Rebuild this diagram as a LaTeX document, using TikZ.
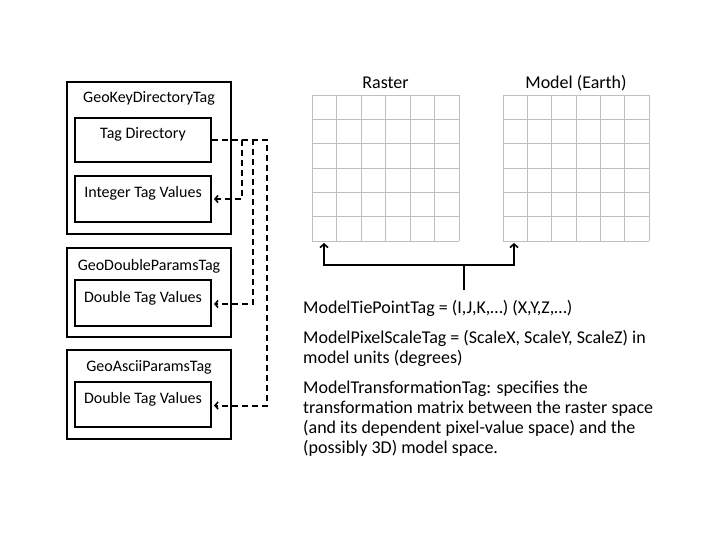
\documentclass[tikz,border=0pt]{standalone}
\usepackage{fontspec}
\setmainfont{Carlito}
\usetikzlibrary{arrows.meta}
\begin{document}
\begin{tikzpicture}[x=1pt,y=-1pt,
  outerbox/.style={draw=black,line width=2pt,minimum width=164pt,inner sep=0pt},
  innerbox/.style={draw=black,line width=2pt,minimum width=136pt,inner sep=0pt},
  lbl/.style={font=\fontsize{16}{19}\selectfont,inner sep=0pt,anchor=base},
  ilbl/.style={font=\fontsize{16}{19}\selectfont,inner sep=0pt,anchor=base},
  glbl/.style={font=\fontsize{18}{21}\selectfont,inner sep=0pt,anchor=base},
  desc/.style={font=\fontsize{18}{20}\selectfont,inner sep=0pt,anchor=base west,align=left},
  dashconn/.style={line width=2pt,dash pattern=on 6pt off 4pt,-{Straight Barb[length=3pt,width=7pt,line width=1.6pt]}},
  conn/.style={line width=2pt,-{Straight Barb[length=3.5pt,width=8pt,line width=1.6pt]}},
  gridline/.style={draw=black!25,line width=0.8pt}]
\useasboundingbox (0,0) rectangle (720,540);
% left boxes
\node[outerbox,minimum height=152pt] (gk) at (149,158) {};
\node[lbl] (gkl) at (149,103) {GeoKeyDirectoryTag};
\node[innerbox,minimum height=44pt] (td) at (143,140) {};
\node[ilbl] (tdl) at (143,138.5) {Tag Directory};
\node[innerbox,minimum height=46pt] (itv) at (143,199) {};
\node[ilbl] (itvl) at (143,198) {Integer Tag Values};

\node[outerbox,minimum height=89pt] (gd) at (149,292.5) {};
\node[lbl] (gdl) at (149,270) {GeoDoubleParamsTag};
\node[innerbox,minimum height=46pt] (dtv1) at (143,303) {};
\node[ilbl] (dtv1l) at (143,302) {Double Tag Values};

\node[outerbox,minimum height=89pt] (ga) at (149,394.5) {};
\node[lbl] (gal) at (149,371) {GeoAsciiParamsTag};
\node[innerbox,minimum height=45pt] (dtv2) at (143,404.5) {};
\node[ilbl] (dtv2l) at (143,403) {Double Tag Values};

% dashed connectors
\coordinate (v1) at (242,0);
\coordinate (v2) at (253,0);
\coordinate (v3) at (267,0);
\draw[dashconn] (td.east) -- (td.east -| v1) |- ([xshift=2pt]itv.east);
\draw[dashconn] (td.east) -- (td.east -| v2) |- ([xshift=2pt,yshift=-1pt]dtv1.east);
\draw[dashconn] (td.east) -- (td.east -| v3) |- ([xshift=2pt,yshift=-1pt]dtv2.east);

% grids
\node[inner sep=0pt,minimum width=147pt,minimum height=146pt] (raster) at (385.5,168) {};
\node[inner sep=0pt,minimum width=146pt,minimum height=146pt] (model) at (576,168) {};
\foreach \i in {0,...,6} {
  \draw[gridline] (312+\i*24.5,95) -- (312+\i*24.5,241);
  \draw[gridline] (312,95+\i*24.33) -- (459,95+\i*24.33);
  \draw[gridline] (503+\i*24.33,95) -- (503+\i*24.33,241);
  \draw[gridline] (503,95+\i*24.33) -- (649,95+\i*24.33);
}
\node[glbl] (rl) at (385.5,88.5) {Raster};
\node[glbl] (ml) at (576,88.5) {Model (Earth)};

% solid connectors
\coordinate (stem) at (464,290);
\coordinate (junc) at (464,265);
\coordinate (ra) at (324,243);
\coordinate (ma) at (514,243);
\draw[line width=2pt] (stem) -- (junc);
\draw[conn] (junc) -| (ra);
\draw[conn] (junc) -| (ma);

% descriptions
\node[desc] (t1) at (303,313) {ModelTiePointTag = (I,J,K,…) (X,Y,Z,…)};
\node[desc] (t2) at (303,363) {ModelPixelScaleTag = (ScaleX, ScaleY, ScaleZ) in\\model units (degrees)};
\node[desc] (t3) at (303,453) {ModelTransformationTag: specifies the\\transformation matrix between the raster space\\(and its dependent pixel-value space) and the\\(possibly 3D) model space.};
\end{tikzpicture}
\end{document}
